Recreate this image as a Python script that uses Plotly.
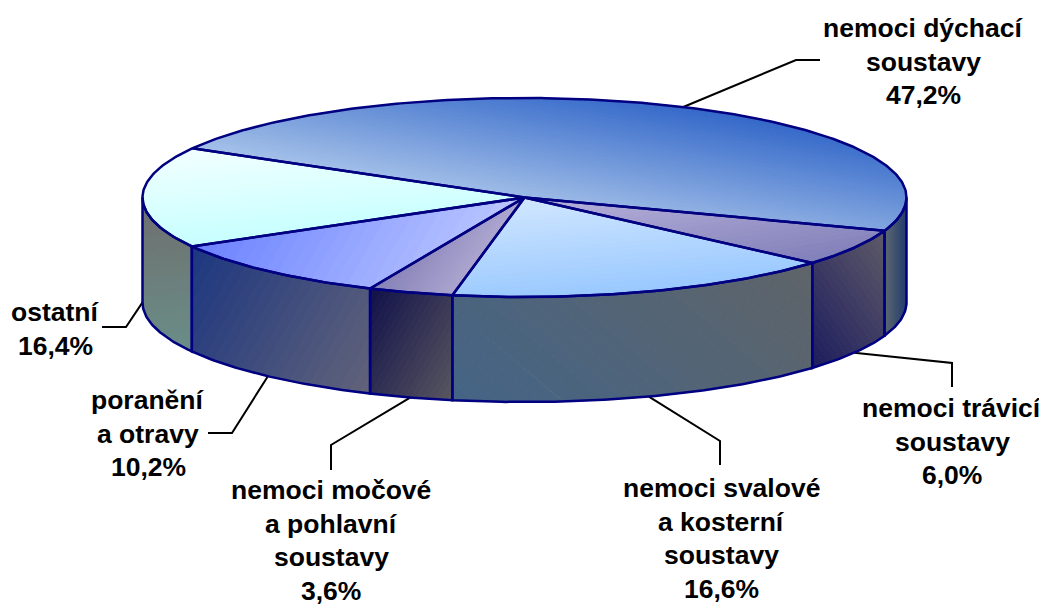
import math
import plotly.graph_objects as go

# ---- data ----
names = [
    ["nemoci dýchací", "soustavy"],
    ["nemoci trávicí", "soustavy"],
    ["nemoci svalové", "a kosterní", "soustavy"],
    ["nemoci močové", "a pohlavní", "soustavy"],
    ["poranění", "a otravy"],
    ["ostatní"],
]
values = [47.2, 6.0, 16.6, 3.6, 10.2, 16.4]

# ---- layout / style ----
W, H = 1047, 605
PAGE = 8                     # default body margin of the page
first_angle = -60.4          # clockwise from 12 o'clock
cx, cy, rx, ry, depth = 524.5, 197.5, 382.0, 99.5, 105.0
OUT = "#000080"
FONT = "Liberation Sans, Arial, sans-serif"
FSIZE = 26.5
LINE_H = 33.7

label_x = [923, 952, 721, 331, 148, 55]
label_y = [28, 408, 488, 490, 400, 312]
elbows = [
    [(796, 60), (820, 60)],
    [(952, 363), (952, 387)],
    [(720, 441), (720, 465)],
    [(331, 445), (331, 470)],
    [(232, 433), (208, 433)],
    [(126, 327), (102, 327)],
]
# gradient: (direction in degrees on screen, y up; start colour, end colour)
top_grad = [
    (80, "#A6C2E9", "#3468C9"),
    (100, "#817FB9", "#B8B2DB"),
    (95, "#98C8FF", "#D0E6FF"),
    (-35, "#847FB6", "#ACA6D0"),
    (-30, "#6A80FF", "#BCC8FF"),
    (95, "#C6FFFF", "#F2FFFF"),
]
side_grad = [
    (0, "#5F6A70", "#223C6E"),
    (35, "#1C1C5E", "#5E5A68"),
    (50, "#446486", "#5F6468"),
    (-30, "#10104A", "#58565F"),
    (-30, "#1C3680", "#62637A"),
    (95, "#6A8E88", "#6E6E6E"),
]


def pt(math_deg, dy=0.0):
    a = math.radians(math_deg)
    return cx + rx * math.cos(a), cy - ry * math.sin(a) + dy


def hex2rgb(h):
    return tuple(int(h[i:i + 2], 16) for i in (1, 3, 5))


def clip(poly, d, t, keep_above):
    out = []
    n = len(poly)
    for i in range(n):
        a, b = poly[i], poly[(i + 1) % n]
        ta = a[0] * d[0] + a[1] * d[1] - t
        tb = b[0] * d[0] + b[1] * d[1] - t
        if not keep_above:
            ta, tb = -ta, -tb
        if ta >= 0:
            out.append(a)
        if (ta >= 0) != (tb >= 0):
            s = ta / (ta - tb)
            out.append((a[0] + s * (b[0] - a[0]), a[1] + s * (b[1] - a[1])))
    return out


fig = go.Figure()


def add_gradient_poly(poly, grad, bands=28):
    deg, c0, c1 = grad
    d = (math.cos(math.radians(deg)), -math.sin(math.radians(deg)))
    ts = [p[0] * d[0] + p[1] * d[1] for p in poly]
    lo, hi = min(ts), max(ts)
    r0, r1 = hex2rgb(c0), hex2rgb(c1)
    for k in range(bands):
        a, b = lo + (hi - lo) * k / bands, lo + (hi - lo) * (k + 1) / bands
        piece = clip(clip(poly, d, a, True), d, b, False)
        if len(piece) < 3:
            continue
        f = (k + 0.5) / bands
        col = "rgb(%d,%d,%d)" % tuple(round(r0[j] + (r1[j] - r0[j]) * f) for j in range(3))
        fig.add_trace(go.Scatter(
            x=[p[0] for p in piece] + [piece[0][0]],
            y=[p[1] for p in piece] + [piece[0][1]],
            mode="lines", fill="toself", fillcolor=col,
            line=dict(color=col, width=1), hoverinfo="skip", showlegend=False))


def add_outline(poly, close=True, width=2.5, color=OUT):
    pts = poly + [poly[0]] if close else poly
    fig.add_trace(go.Scatter(
        x=[p[0] for p in pts], y=[p[1] for p in pts], mode="lines",
        line=dict(color=color, width=width), hoverinfo="skip", showlegend=False))


# slice boundaries (math angles, decreasing = clockwise)
total = sum(values)
bounds = []
acc = first_angle
for v in values:
    start = 90 - acc
    acc += v / total * 360
    bounds.append((start, 90 - acc))


def arc(a0, a1, dy=0.0):
    n = max(2, int(abs(a1 - a0) * 1.5))
    return [pt(a0 + (a1 - a0) * i / n, dy) for i in range(n + 1)]


# leader lines, behind the pie
for i, (a0, a1) in enumerate(bounds):
    mid = (a0 + a1) / 2
    in_front = math.sin(math.radians(mid)) < 0.02
    start = pt(mid, depth if in_front else 0)
    add_outline([start] + elbows[i], close=False, width=2, color="#000000")

# side faces: only the parts of the rim facing the viewer (math angle 180..360)
side_faces = []
for i, (a0, a1) in enumerate(bounds):
    for shift in (0, -360, 360):
        s0, s1 = min(a0 + shift, 0), max(a1 + shift, -180)
        if s0 > s1:
            top_edge = arc(s0, s1)
            bottom_edge = arc(s1, s0, depth)
            poly = top_edge + bottom_edge
            side_faces.append(poly)
            add_gradient_poly(poly, side_grad[i], bands=24)

# top faces
for i, (a0, a1) in enumerate(bounds):
    poly = [(cx, cy)] + arc(a0, a1)
    add_gradient_poly(poly, top_grad[i], bands=36 if values[i] > 20 else 24)

for poly in side_faces:
    add_outline(poly)
for a0, a1 in bounds:
    add_outline([(cx, cy)] + arc(a0, a1))

# labels, one annotation per text line for exact leading
for i, lines in enumerate(names):
    text = lines + [("%.1f%%" % values[i]).replace(".", ",")]
    for j, t in enumerate(text):
        fig.add_annotation(
            x=label_x[i], y=label_y[i] + j * LINE_H, text="<b>%s</b>" % t,
            showarrow=False, xanchor="center", yanchor="middle",
            font=dict(family=FONT, size=FSIZE, color="#000000"))

fig.update_layout(
    width=W - PAGE, height=H - PAGE, margin=dict(l=0, r=0, t=0, b=0),
    paper_bgcolor="#FFFFFF", plot_bgcolor="#FFFFFF", showlegend=False,
    xaxis=dict(range=[PAGE, W], visible=False, fixedrange=True),
    yaxis=dict(range=[H, PAGE], visible=False, fixedrange=True),
)
fig.write_html("out.html", config={"displayModeBar": False})
